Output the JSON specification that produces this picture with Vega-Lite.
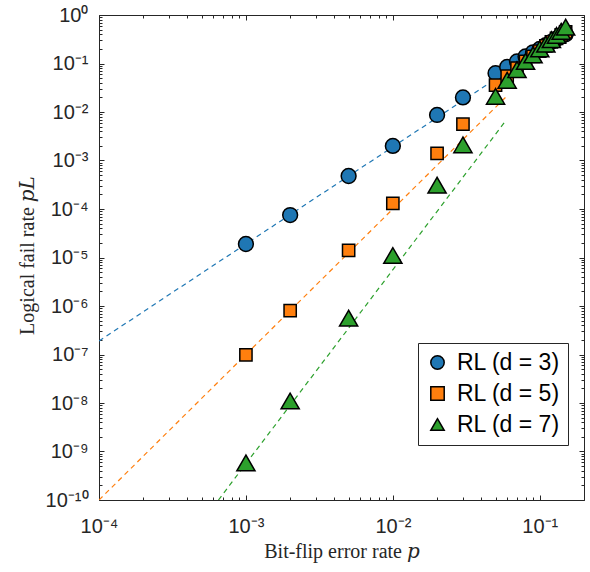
{
  "$schema": "https://vega.github.io/schema/vega-lite/v6.json",
  "width": 485,
  "height": 485,
  "autosize": {"type": "none"},
  "padding": {"left": 99, "top": 15, "right": 6, "bottom": 72},
  "background": "white",
  "config": {
    "view": {"stroke": null},
    "axis": {
      "domainColor": "#262626",
      "domainWidth": 1,
      "tickColor": "#262626",
      "tickWidth": 1,
      "grid": false,
      "labelFont": "Liberation Sans",
      "labelFontSize": 20,
      "labelColor": "#262626",
      "labelOverlap": false,
      "labelBound": false,
      "labelFlush": false,
      "titleFont": "Liberation Serif, DejaVu Serif",
      "titleFontSize": 20,
      "titleFontWeight": "normal",
      "titleColor": "#262626"
    },
    "legend": {
      "strokeColor": "#262626",
      "fillColor": "white",
      "padding": 8,
      "labelFont": "Liberation Sans",
      "labelFontSize": 23,
      "labelColor": "black",
      "symbolSize": 180,
      "symbolStrokeColor": "black",
      "symbolStrokeWidth": 1.5,
      "symbolOpacity": 1,
      "rowPadding": 7,
      "labelOffset": 8
    }
  },
  "datasets": {
    "pts": [
      {"p": 0.001, "pl": 1.9e-5, "series": "RL (d = 3)", "d": 3},
      {"p": 0.002, "pl": 7.5e-5, "series": "RL (d = 3)", "d": 3},
      {"p": 0.005, "pl": 4.8e-4, "series": "RL (d = 3)", "d": 3},
      {"p": 0.01, "pl": 2.0e-3, "series": "RL (d = 3)", "d": 3},
      {"p": 0.02, "pl": 8.7e-3, "series": "RL (d = 3)", "d": 3},
      {"p": 0.03, "pl": 0.020, "series": "RL (d = 3)", "d": 3},
      {"p": 0.05, "pl": 0.063, "series": "RL (d = 3)", "d": 3},
      {"p": 0.06, "pl": 0.085, "series": "RL (d = 3)", "d": 3},
      {"p": 0.07, "pl": 0.11, "series": "RL (d = 3)", "d": 3},
      {"p": 0.08, "pl": 0.14, "series": "RL (d = 3)", "d": 3},
      {"p": 0.09, "pl": 0.17, "series": "RL (d = 3)", "d": 3},
      {"p": 0.1, "pl": 0.2, "series": "RL (d = 3)", "d": 3},
      {"p": 0.11, "pl": 0.24, "series": "RL (d = 3)", "d": 3},
      {"p": 0.12, "pl": 0.28, "series": "RL (d = 3)", "d": 3},
      {"p": 0.13, "pl": 0.32, "series": "RL (d = 3)", "d": 3},
      {"p": 0.14, "pl": 0.36, "series": "RL (d = 3)", "d": 3},
      {"p": 0.15, "pl": 0.40, "series": "RL (d = 3)", "d": 3},
      {"p": 0.001, "pl": 9.8e-8, "series": "RL (d = 5)", "d": 5},
      {"p": 0.002, "pl": 8.0e-7, "series": "RL (d = 5)", "d": 5},
      {"p": 0.005, "pl": 1.4e-5, "series": "RL (d = 5)", "d": 5},
      {"p": 0.01, "pl": 1.3e-4, "series": "RL (d = 5)", "d": 5},
      {"p": 0.02, "pl": 1.4e-3, "series": "RL (d = 5)", "d": 5},
      {"p": 0.03, "pl": 5.6e-3, "series": "RL (d = 5)", "d": 5},
      {"p": 0.05, "pl": 0.036, "series": "RL (d = 5)", "d": 5},
      {"p": 0.06, "pl": 0.055, "series": "RL (d = 5)", "d": 5},
      {"p": 0.07, "pl": 0.08, "series": "RL (d = 5)", "d": 5},
      {"p": 0.08, "pl": 0.11, "series": "RL (d = 5)", "d": 5},
      {"p": 0.09, "pl": 0.14, "series": "RL (d = 5)", "d": 5},
      {"p": 0.1, "pl": 0.18, "series": "RL (d = 5)", "d": 5},
      {"p": 0.11, "pl": 0.23, "series": "RL (d = 5)", "d": 5},
      {"p": 0.12, "pl": 0.28, "series": "RL (d = 5)", "d": 5},
      {"p": 0.13, "pl": 0.33, "series": "RL (d = 5)", "d": 5},
      {"p": 0.14, "pl": 0.39, "series": "RL (d = 5)", "d": 5},
      {"p": 0.15, "pl": 0.45, "series": "RL (d = 5)", "d": 5},
      {"p": 0.001, "pl": 5.8e-10, "series": "RL (d = 7)", "d": 7},
      {"p": 0.002, "pl": 1.1e-8, "series": "RL (d = 7)", "d": 7},
      {"p": 0.005, "pl": 5.6e-7, "series": "RL (d = 7)", "d": 7},
      {"p": 0.01, "pl": 1.1e-5, "series": "RL (d = 7)", "d": 7},
      {"p": 0.02, "pl": 3.1e-4, "series": "RL (d = 7)", "d": 7},
      {"p": 0.03, "pl": 2.1e-3, "series": "RL (d = 7)", "d": 7},
      {"p": 0.05, "pl": 0.021, "series": "RL (d = 7)", "d": 7},
      {"p": 0.06, "pl": 0.045, "series": "RL (d = 7)", "d": 7},
      {"p": 0.07, "pl": 0.075, "series": "RL (d = 7)", "d": 7},
      {"p": 0.08, "pl": 0.11, "series": "RL (d = 7)", "d": 7},
      {"p": 0.09, "pl": 0.15, "series": "RL (d = 7)", "d": 7},
      {"p": 0.1, "pl": 0.2, "series": "RL (d = 7)", "d": 7},
      {"p": 0.11, "pl": 0.25, "series": "RL (d = 7)", "d": 7},
      {"p": 0.12, "pl": 0.31, "series": "RL (d = 7)", "d": 7},
      {"p": 0.13, "pl": 0.38, "series": "RL (d = 7)", "d": 7},
      {"p": 0.14, "pl": 0.46, "series": "RL (d = 7)", "d": 7},
      {"p": 0.15, "pl": 0.56, "series": "RL (d = 7)", "d": 7}
    ],
    "fits": [
      {"p": 0.0001, "pl": 1.9e-7, "fit": "fit d = 3"},
      {"p": 0.049, "pl": 0.046, "fit": "fit d = 3"},
      {"p": 0.0001, "pl": 1e-10, "fit": "fit d = 5"},
      {"p": 0.06, "pl": 0.0216, "fit": "fit d = 5"},
      {"p": 0.00065, "pl": 1e-10, "fit": "fit d = 7"},
      {"p": 0.058, "pl": 0.0063, "fit": "fit d = 7"}
    ]
  },
  "layer": [
    {
      "data": {"name": "fits"},
      "mark": {"type": "line", "strokeDash": [5, 4], "strokeWidth": 1.2, "clip": true},
      "encoding": {
        "x": {
          "field": "p", "type": "quantitative",
          "scale": {"type": "log", "domain": [0.0001, 0.2], "nice": false},
          "axis": {
            "orient": "bottom",
            "title": "Bit-flip error rate 𝑝",
            "titleBaseline": "alphabetic",
            "titleY": 57,
            "values": [0.0001,0.0002,0.0003,0.0004,0.0005,0.0006,0.0007,0.0008,0.0009,0.001,0.002,0.003,0.004,0.005,0.006,0.007,0.008,0.009,0.01,0.02,0.03,0.04,0.05,0.06,0.07,0.08,0.09,0.1,0.2],
            "tickSize": {"condition": {"test": "abs(log(datum.value)/LN10 - round(log(datum.value)/LN10)) < 0.000001", "value": -5}, "value": -3},
            "labelPadding": 21,
            "labelExpr": "abs(log(datum.value)/LN10 - round(log(datum.value)/LN10)) < 0.000001 ? '10' + (round(log(datum.value)/LN10) < 0 ? '⁻' : '') + (abs(round(log(datum.value)/LN10)) == 10 ? '¹⁰' : substring('⁰¹²³⁴⁵⁶⁷⁸⁹', abs(round(log(datum.value)/LN10)), abs(round(log(datum.value)/LN10)) + 1)) : ''"
          }
        },
        "y": {
          "field": "pl", "type": "quantitative",
          "scale": {"type": "log", "domain": [1e-10, 1], "nice": false},
          "axis": {
            "orient": "left",
            "title": "Logical fail rate 𝑝𝐿",
            "titleAngle": 270,
            "titleAlign": "center",
            "titleBaseline": "middle",
            "titleX": -72,
            "titleY": 240,
            "values": [1e-10,2e-10,3e-10,4e-10,5e-10,6e-10,7e-10,8e-10,9e-10,1e-9,2e-9,3e-9,4e-9,5e-9,6e-9,7e-9,8e-9,9e-9,1e-8,2e-8,3e-8,4e-8,5e-8,6e-8,7e-8,8e-8,9e-8,1e-7,2e-7,3e-7,4e-7,5e-7,6e-7,7e-7,8e-7,9e-7,1e-6,2e-6,3e-6,4e-6,5e-6,6e-6,7e-6,8e-6,9e-6,1e-5,2e-5,3e-5,4e-5,5e-5,6e-5,7e-5,8e-5,9e-5,1e-4,2e-4,3e-4,4e-4,5e-4,6e-4,7e-4,8e-4,9e-4,0.001,0.002,0.003,0.004,0.005,0.006,0.007,0.008,0.009,0.01,0.02,0.03,0.04,0.05,0.06,0.07,0.08,0.09,0.1,0.2,0.3,0.4,0.5,0.6,0.7,0.8,0.9,1],
            "tickSize": {"condition": {"test": "abs(log(datum.value)/LN10 - round(log(datum.value)/LN10)) < 0.000001", "value": -5}, "value": -3},
            "labelPadding": 16,
            "labelExpr": "abs(log(datum.value)/LN10 - round(log(datum.value)/LN10)) < 0.000001 ? '10' + (round(log(datum.value)/LN10) < 0 ? '⁻' : '') + (abs(round(log(datum.value)/LN10)) == 10 ? '¹⁰' : substring('⁰¹²³⁴⁵⁶⁷⁸⁹', abs(round(log(datum.value)/LN10)), abs(round(log(datum.value)/LN10)) + 1)) : ''"
          }
        },
        "stroke": {
          "field": "fit", "type": "nominal",
          "scale": {"domain": ["fit d = 3", "fit d = 5", "fit d = 7"], "range": ["#1f77b4", "#ff7f0e", "#2ca02c"]},
          "legend": null
        }
      }
    },
    {
      "data": {"name": "pts"},
      "mark": {"type": "point", "filled": true, "opacity": 1, "stroke": "black", "strokeWidth": 1.5},
      "encoding": {
        "x": {
          "field": "p", "type": "quantitative",
          "axis": {
            "orient": "top", "title": null, "labels": false,
            "values": [0.0001,0.0002,0.0003,0.0004,0.0005,0.0006,0.0007,0.0008,0.0009,0.001,0.002,0.003,0.004,0.005,0.006,0.007,0.008,0.009,0.01,0.02,0.03,0.04,0.05,0.06,0.07,0.08,0.09,0.1,0.2],
            "tickSize": {"condition": {"test": "abs(log(datum.value)/LN10 - round(log(datum.value)/LN10)) < 0.000001", "value": -5}, "value": -3}
          }
        },
        "y": {
          "field": "pl", "type": "quantitative",
          "axis": {
            "orient": "right", "title": null, "labels": false,
            "values": [1e-10,2e-10,3e-10,4e-10,5e-10,6e-10,7e-10,8e-10,9e-10,1e-9,2e-9,3e-9,4e-9,5e-9,6e-9,7e-9,8e-9,9e-9,1e-8,2e-8,3e-8,4e-8,5e-8,6e-8,7e-8,8e-8,9e-8,1e-7,2e-7,3e-7,4e-7,5e-7,6e-7,7e-7,8e-7,9e-7,1e-6,2e-6,3e-6,4e-6,5e-6,6e-6,7e-6,8e-6,9e-6,1e-5,2e-5,3e-5,4e-5,5e-5,6e-5,7e-5,8e-5,9e-5,1e-4,2e-4,3e-4,4e-4,5e-4,6e-4,7e-4,8e-4,9e-4,0.001,0.002,0.003,0.004,0.005,0.006,0.007,0.008,0.009,0.01,0.02,0.03,0.04,0.05,0.06,0.07,0.08,0.09,0.1,0.2,0.3,0.4,0.5,0.6,0.7,0.8,0.9,1],
            "tickSize": {"condition": {"test": "abs(log(datum.value)/LN10 - round(log(datum.value)/LN10)) < 0.000001", "value": -5}, "value": -3}
          }
        },
        "fill": {
          "field": "series", "type": "nominal",
          "scale": {"domain": ["RL (d = 3)", "RL (d = 5)", "RL (d = 7)"], "range": ["#1f77b4", "#ff7f0e", "#2ca02c"]},
          "legend": {
            "title": null, "orient": "none", "legendX": 319, "legendY": 328,
            "encode": {"symbols": {"update": {"stroke": {"value": "black"}, "strokeWidth": {"value": 1.5}, "opacity": {"value": 1}}}}
          }
        },
        "shape": {
          "field": "series", "type": "nominal",
          "scale": {"domain": ["RL (d = 3)", "RL (d = 5)", "RL (d = 7)"], "range": ["circle", "square", "triangle-up"]},
          "legend": {"title": null, "orient": "none", "legendX": 319, "legendY": 328}
        },
        "size": {
          "field": "d", "type": "ordinal",
          "scale": {"type": "ordinal", "domain": [3, 5, 7], "range": [220, 150, 330]},
          "legend": null
        }
      }
    }
  ]
}
